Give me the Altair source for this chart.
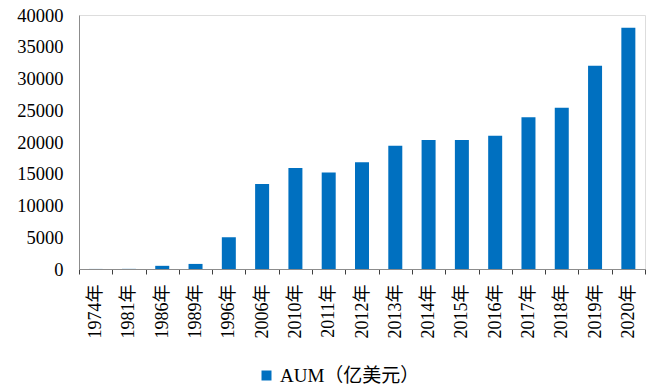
import altair as alt
import pandas as pd

# AUM by year (亿美元)
years = ["1974年", "1981年", "1986年", "1989年", "1996年", "2006年", "2010年",
         "2011年", "2012年", "2013年", "2014年", "2015年", "2016年", "2017年",
         "2018年", "2019年", "2020年"]
aum = [10, 20, 500, 800, 5000, 13400, 15900, 15200, 16800, 19400, 20300,
       20300, 21000, 23900, 25400, 32000, 38000]
series_name = "AUM（亿美元）"

df = pd.DataFrame({"year": years, "aum": aum, "series": [series_name] * len(years)})

FONT = "Liberation Serif, Times New Roman, Noto Sans CJK SC, serif"
AXIS_GREY = "#8c8c8c"

chart = (
    alt.Chart(df)
    .mark_bar(size=14)
    .encode(
        x=alt.X(
            "year:N",
            sort=years,
            title=None,
            scale=alt.Scale(paddingInner=0, paddingOuter=0),
            axis=alt.Axis(
                labelAngle=270,
                labelAlign="right",
                labelBaseline="middle",
                labelPadding=10,
                labelFont=FONT,
                labelFontSize=18,
                labelColor="#000000",
                tickBand="extent",
                tickSize=5,
                tickColor="#404040",
                domainColor=AXIS_GREY,
            ),
        ),
        y=alt.Y(
            "aum:Q",
            title=None,
            scale=alt.Scale(domain=[0, 40000]),
            axis=alt.Axis(
                values=list(range(0, 40001, 5000)),
                format="d",
                ticks=False,
                grid=False,
                labelPadding=16,
                labelFont=FONT,
                labelFontSize=18.5,
                labelColor="#000000",
                domainColor=AXIS_GREY,
            ),
        ),
        color=alt.Color(
            "series:N",
            scale=alt.Scale(range=["#0070C0"]),
            legend=alt.Legend(
                title=None,
                orient="none",
                legendX=178,
                legendY=351,
                symbolType="square",
                symbolSize=100,
                symbolStrokeWidth=0,
                labelFont=FONT,
                labelFontSize=19,
                labelColor="#000000",
                labelOffset=4,
            ),
        ),
    )
    .properties(
        width=566,
        height=254,
        autosize=alt.AutoSizeParams(type="none"),
        padding={"left": 79, "top": 15, "right": 3, "bottom": 117},
    )
    .configure_view(stroke=None)
    .configure(background="white")
)

chart.save("out.html", embed_options={"renderer": "svg", "actions": False})
